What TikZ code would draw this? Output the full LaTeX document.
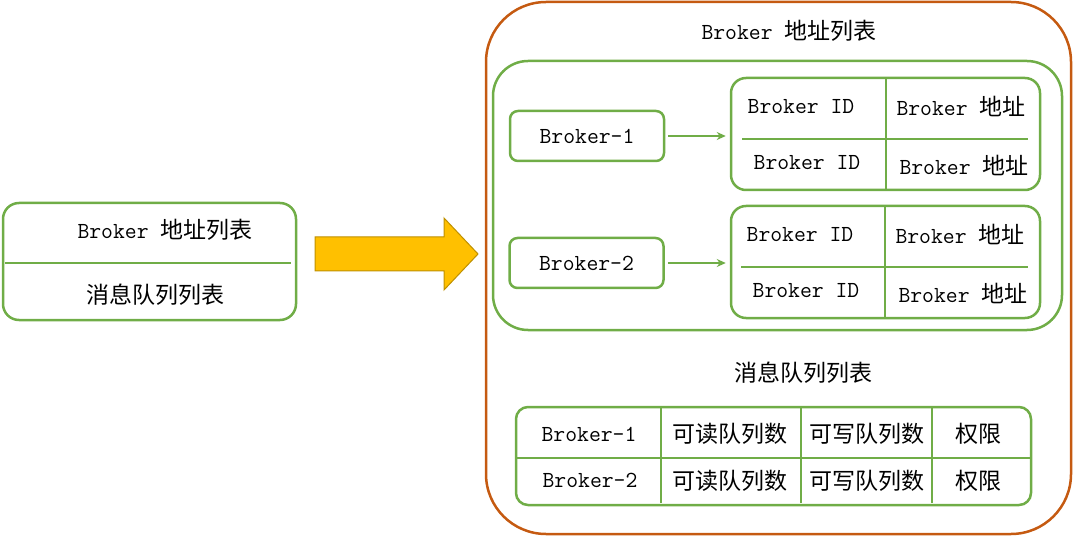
\documentclass[tikz,border=0pt]{standalone}
\usepackage{fontspec}
\newfontfamily\cjk{Noto Sans CJK SC}
\usetikzlibrary{arrows.meta}
\definecolor{grn}{HTML}{70AD47}
\definecolor{org}{HTML}{C55A11}
\definecolor{gold}{HTML}{FFC000}
\definecolor{goldline}{HTML}{BF9000}
\newcommand{\zh}[1]{{\cjk #1}}
\begin{document}
\begin{tikzpicture}[x=1pt,y=-1pt,
  gbox/.style={draw=grn, line width=2.5pt},
  gline/.style={draw=grn, line width=2pt},
  txt/.style={inner sep=0pt, text=black, font=\fontsize{23}{27}\selectfont\ttfamily},
  bbox/.style={gbox, rounded corners=8pt, minimum width=154pt, minimum height=50pt, txt},
  tbox/.style={gbox, rounded corners=15pt, minimum width=309pt, minimum height=112pt},
  garrow/.style={draw=grn, line width=1.5pt, -{Stealth[length=9pt,width=8pt]}}]
\useasboundingbox (0,0) rectangle (1076,537);

% left box
\node[gbox, rounded corners=16pt, minimum width=293pt, minimum height=117pt] (left) at (149.5,261.5) {};
\draw[gline] (5,263) -- (291,263);
\node[txt] (l1) at (165,230) {Broker \zh{地址列表}};
\node[txt] (l2) at (155,295) {\zh{消息队列列表}};

% big arrow
\draw[fill=gold, draw=goldline, line width=1pt] (315,237) -- (444,237) -- (444,218) -- (478,254) -- (444,290) -- (444,271) -- (315,271) -- cycle;

% outer box
\node[draw=org, line width=2.5pt, rounded corners=60pt, minimum width=585pt, minimum height=532pt] (outer) at (778.5,268) {};
\node[txt] (title) at (789,31) {Broker \zh{地址列表}};

% inner green box
\node[gbox, rounded corners=35pt, minimum width=569pt, minimum height=269pt] (inner) at (777.5,195.5) {};

% brokers
\node[bbox] (b1) at (587,136) {Broker-1};
\node[bbox] (b2) at (586.5,263) {Broker-2};

% table 1
\node[tbox] (t1) at (885.5,134) {};
\draw[gline] (886,78) -- (886,190);
\draw[gline] (742,139) -- (1028,139);
\node[txt] (t1a) at (801,107) {Broker ID};
\node[txt] (t1b) at (961,106) {Broker \zh{地址}};
\node[txt] (t1c) at (807,163) {Broker ID};
\node[txt] (t1d) at (964,165) {Broker \zh{地址}};

% table 2
\node[tbox] (t2) at (885.5,262) {};
\draw[gline] (885,206) -- (885,318);
\draw[gline] (741,267) -- (1028,267);
\node[txt] (t2a) at (800,235) {Broker ID};
\node[txt] (t2b) at (960,234) {Broker \zh{地址}};
\node[txt] (t2c) at (806,291) {Broker ID};
\node[txt] (t2d) at (963,293) {Broker \zh{地址}};

% arrows
\draw[garrow, shorten <=3pt, shorten >=4pt] (b1.east) -- (b1.east -| t1.west);
\draw[garrow, shorten <=3pt, shorten >=4pt] (b2.east) -- (b2.east -| t2.west);

% message queue list
\node[txt] (mq) at (803,373) {\zh{消息队列列表}};
\node[gbox, rounded corners=12pt, minimum width=515pt, minimum height=98pt] (t3) at (773.5,456) {};
\draw[gline] (516,458) -- (1031,458);
\draw[gline] (661,407) -- (661,503);
\draw[gline] (801,407) -- (801,503);
\draw[gline] (932,407) -- (932,503);
\node[txt] (r1a) at (589,434) {Broker-1};
\node[txt] (r1b) at (730,434) {\zh{可读队列数}};
\node[txt] (r1c) at (867,434) {\zh{可写队列数}};
\node[txt] (r1d) at (978,434) {\zh{权限}};
\node[txt] (r2a) at (590,480) {Broker-2};
\node[txt] (r2b) at (730,481) {\zh{可读队列数}};
\node[txt] (r2c) at (867,481) {\zh{可写队列数}};
\node[txt] (r2d) at (978,481) {\zh{权限}};
\end{tikzpicture}
\end{document}
